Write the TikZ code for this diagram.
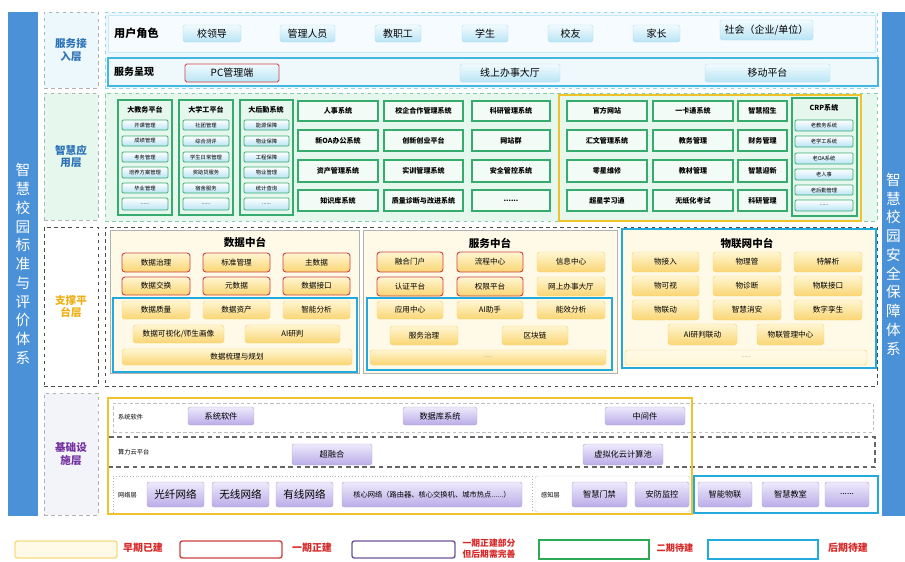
\documentclass[tikz,border=0pt]{standalone}
\usepackage{fontspec}
\setmainfont{Noto Sans CJK SC}

\definecolor{barblue}{RGB}{75,145,215}
\definecolor{frameblue}{RGB}{35,170,220}
\definecolor{frameyellow}{RGB}{240,195,45}
\definecolor{framered}{RGB}{205,65,65}
\definecolor{framepurple}{RGB}{110,85,150}
\definecolor{framegreen}{RGB}{45,170,85}
\definecolor{labelblue}{RGB}{45,115,185}
\definecolor{labelorange}{RGB}{240,175,20}
\definecolor{labelpurple}{RGB}{115,50,160}
\definecolor{accessfill}{RGB}{236,248,252}
\definecolor{appfill}{RGB}{230,248,238}
\definecolor{appline}{RGB}{55,170,110}
\definecolor{creamfill}{RGB}{255,250,232}
\definecolor{itemtop}{RGB}{255,246,210}
\definecolor{itembot}{RGB}{250,213,115}
\definecolor{btntop}{RGB}{242,251,254}
\definecolor{btnbot}{RGB}{185,228,245}
\definecolor{purtop}{RGB}{238,234,252}
\definecolor{purbot}{RGB}{186,172,232}
\definecolor{infrafill}{RGB}{243,243,250}
\definecolor{legendred}{RGB}{215,40,40}

\tikzset{
  boxat/.style args={#1,#2,#3,#4}{at={({(#1+#3)/2},{(#2+#4)/2})}, minimum width={(#3-#1)*0.03cm}, minimum height={(#4-#2)*0.03cm}},
  sidebar/.style={fill=barblue, text=white, font=\fontsize{12.5}{16}\selectfont, align=center, inner sep=0pt},
  layerbox/.style={draw=gray!60, dashed, fill=#1, inner sep=0pt, align=center, font=\fontsize{9}{11}\selectfont\bfseries},
  btn/.style={draw=frameblue!35, top color=btntop, bottom color=btnbot, rounded corners=1.5pt, inner sep=0pt, font=\fontsize{8.5}{9}\selectfont},
  appbox/.style={draw=appline, line width=1.1pt, fill=appfill!50!white, inner sep=0pt, font=\fontsize{6}{7}\selectfont\bfseries},
  colbox/.style={draw=appline, line width=1pt, fill=appfill, inner sep=0pt},
  coltitle/.style={font=\fontsize{6}{7}\selectfont\bfseries, inner sep=0pt},
  subbtn/.style={draw=appline, line width=0.7pt, top color=white, bottom color=btnbot, rounded corners=1pt, inner sep=0pt, font=\fontsize{4.5}{5}\selectfont},
  midpanel/.style={draw=gray!60, line width=0.8pt, fill=creamfill, inner sep=0pt},
  midtitle/.style={font=\fontsize{9}{10}\selectfont\bfseries, inner sep=0pt},
  ybox/.style={draw=itembot, top color=itemtop, bottom color=itembot, rounded corners=2.5pt, inner sep=0pt, font=\fontsize{6.5}{7}\selectfont},
  redbox/.style={ybox, draw=framered, line width=0.8pt},
  purbtn/.style={draw=framepurple!50, top color=purtop, bottom color=purbot, rounded corners=2pt, inner sep=0pt, font=\fontsize{7}{8}\selectfont},
  bluefr/.style={draw=frameblue, line width=2pt, inner sep=0pt},
  yellowfr/.style={draw=frameyellow, line width=2pt, inner sep=0pt},
  rowlabel/.style={font=\fontsize{5.3}{6}\selectfont, anchor=west, inner sep=0pt},
  legendbox/.style={line width=1.2pt, rounded corners=2pt, inner sep=0pt},
  legendtxt/.style={text=legendred, font=\fontsize{8.5}{11}\selectfont\bfseries, align=center, inner sep=0pt},
}

\begin{document}
\begin{tikzpicture}[x=0.03cm, y=-0.03cm]
\useasboundingbox (0,0) rectangle (905,561);

\node[sidebar, boxat={8,12,38,516}] (bzbar) {智\\慧\\校\\园\\标\\准\\与\\评\\价\\体\\系};
\node[sidebar, boxat={882,12,905,516}] (aqbar) {智\\慧\\校\\园\\安\\全\\保\\障\\体\\系};

\node[layerbox=accessfill, text=labelblue, boxat={44,12,98,88}] (jrlayer) {服务接\\入层};
\node[layerbox=appfill, text=labelblue, boxat={44,93,98,220}] (yylayer) {智慧应\\用层};
\node[layerbox=white, draw=black!70, text=labelorange, boxat={44,227,98,386}] (ptlayer) {支撑平\\台层};
\node[layerbox=infrafill, text=labelpurple, boxat={44,393,98,515}] (jclayer) {基础设\\施层};

% service access
\node[draw=frameblue!50, dashed, fill=accessfill, inner sep=0pt, boxat={105,12,877,88}] (jrpanel) {};
\node[draw=frameblue!25, fill=white!50!accessfill, inner sep=0pt, boxat={108,15,875,52}] (jsrow) {};
\node[font=\fontsize{9.5}{10}\selectfont\bfseries, anchor=west, inner sep=0pt] (yhjs) at (114,33) {用户角色};
\node[btn, boxat={183,25,241,42}] (xld) {校领导};
\node[btn, boxat={280,25,335,42}] (glry) {管理人员};
\node[btn, boxat={375,25,421,42}] (jzg) {教职工};
\node[btn, boxat={462,25,508,42}] (xs) {学生};
\node[btn, boxat={548,25,593,42}] (xy) {校友};
\node[btn, boxat={633,25,680,42}] (jz) {家长};
\node[btn, boxat={720,20,813,40}] (sh) {社会（企业/单位）};
\node[bluefr, draw=frameblue!85, fill=accessfill!70!frameblue!20, boxat={108,58,878,86}] (cxrow) {};
\node[font=\fontsize{8.5}{9}\selectfont\bfseries, anchor=west, inner sep=0pt] (fwcx) at (114,72) {服务呈现};
\node[btn, draw=framered, line width=0.8pt, boxat={185,64,279,82}] (pcd) {PC管理端};
\node[btn, boxat={460,64,560,82}] (xsdt) {线上办事大厅};
\node[btn, boxat={705,64,830,82}] (ydpt) {移动平台};

% smart applications
\node[draw=appline!60, dashed, fill=appfill, inner sep=0pt, boxat={105,93,877,221}] (yypanel) {};
\node[colbox, boxat={118,100,172,215}] (djw) {};
\node[coltitle] (djwt) at (145,110) {大教务平台};
\node[subbtn, boxat={122,120,168,130}] (jw1) {开课管理};
\node[subbtn, boxat={122,136,168,146}] (jw2) {成绩管理};
\node[subbtn, boxat={122,152,168,162}] (jw3) {考务管理};
\node[subbtn, boxat={122,167,168,178}] (jw4) {培养方案管理};
\node[subbtn, boxat={122,183,168,193}] (jw5) {毕业管理};
\node[subbtn, boxat={122,198,168,210}] (jw6) {......};
\node[colbox, boxat={179,100,233,215}] (dxg) {};
\node[coltitle] (dxgt) at (206,110) {大学工平台};
\node[subbtn, boxat={183,120,229,130}] (xg1) {社团管理};
\node[subbtn, boxat={183,136,229,146}] (xg2) {综合测评};
\node[subbtn, boxat={183,152,229,162}] (xg3) {学生日常管理};
\node[subbtn, boxat={183,167,229,178}] (xg4) {奖助贷服务};
\node[subbtn, boxat={183,183,229,193}] (xg5) {宿舍服务};
\node[subbtn, boxat={183,198,229,210}] (xg6) {......};
\node[colbox, boxat={240,100,293,215}] (dhq) {};
\node[coltitle] (dhqt) at (266,110) {大后勤系统};
\node[subbtn, boxat={244,120,289,130}] (hq1) {能源保障};
\node[subbtn, boxat={244,136,289,146}] (hq2) {物业保障};
\node[subbtn, boxat={244,152,289,162}] (hq3) {工程保障};
\node[subbtn, boxat={244,167,289,178}] (hq4) {物业管理};
\node[subbtn, boxat={244,183,289,193}] (hq5) {统计查询};
\node[subbtn, boxat={244,198,289,210}] (hq6) {......};
\node[appbox, boxat={298,101,378,121}] (rsxt) {人事系统};
\node[appbox, boxat={298,130,378,151}] (oaxt) {新OA办公系统};
\node[appbox, boxat={298,160,378,182}] (zcxt) {资产管理系统};
\node[appbox, boxat={298,190,378,211}] (zskxt) {知识库系统};
\node[appbox, boxat={384,101,463,121}] (xqhz) {校企合作管理系统};
\node[appbox, boxat={384,130,463,151}] (cxcy) {创新创业平台};
\node[appbox, boxat={384,160,463,182}] (sxgl) {实训管理系统};
\node[appbox, boxat={384,190,463,211}] (zlzd) {质量诊断与改进系统};
\node[appbox, boxat={472,101,550,121}] (kygl) {科研管理系统};
\node[appbox, boxat={472,130,550,151}] (wzq) {网站群};
\node[appbox, boxat={472,160,550,182}] (aqgk) {安全管控系统};
\node[appbox, boxat={472,190,550,211}] (yymore) {......};
\node[yellowfr, boxat={559,95,861,221}] (yyold) {};
\node[appbox, boxat={567,101,647,121}] (gfwz) {官方网站};
\node[appbox, boxat={567,130,647,151}] (hwgl) {汇文管理系统};
\node[appbox, boxat={567,160,647,182}] (lxwx) {零星维修};
\node[appbox, boxat={567,190,647,211}] (cxxxt) {超星学习通};
\node[appbox, boxat={653,101,733,121}] (ykt) {一卡通系统};
\node[appbox, boxat={653,130,733,151}] (jwgl) {教务管理};
\node[appbox, boxat={653,160,733,182}] (jcgl) {教材管理};
\node[appbox, boxat={653,190,733,211}] (wzhks) {无纸化考试};
\node[appbox, boxat={738,101,787,121}] (zhzs) {智慧招生};
\node[appbox, boxat={738,130,787,151}] (cwgl) {财务管理};
\node[appbox, boxat={738,160,787,182}] (zhyx) {智慧迎新};
\node[appbox, boxat={738,190,787,211}] (kygl2) {科研管理};
\node[colbox, boxat={792,98,857,216}] (crp) {};
\node[coltitle] (crpt) at (824,108) {CRP系统};
\node[subbtn, boxat={795,120,853,131}] (crp1) {老教务系统};
\node[subbtn, boxat={795,136,853,147}] (crp2) {老学工系统};
\node[subbtn, boxat={795,153,853,164}] (crp3) {老OA系统};
\node[subbtn, boxat={795,169,853,180}] (crp4) {老人事};
\node[subbtn, boxat={795,185,853,195}] (crp5) {老后勤管理};
\node[subbtn, boxat={795,200,853,211}] (crp6) {......};

% support platforms
\node[draw=black!70, dashed, inner sep=0pt, boxat={105,227,877,386}] (ptpanel) {};
\node[midpanel, boxat={110,230,359,373}] (sjzt) {};
\node[midtitle] (sjztt) at (245,242) {数据中台};
\node[redbox, boxat={122,253,190,272}] (sjzl) {数据治理};
\node[redbox, boxat={203,253,270,272}] (bzgl) {标准管理};
\node[redbox, boxat={283,253,350,272}] (zsj) {主数据};
\node[redbox, boxat={122,277,190,295}] (sjjh) {数据交换};
\node[redbox, boxat={203,277,270,295}] (ysj) {元数据};
\node[redbox, boxat={283,277,350,295}] (sjjk) {数据接口};
\node[bluefr, boxat={113,298,357,372}] (sjnew) {};
\node[ybox, boxat={122,301,190,319}] (sjzliang) {数据质量};
\node[ybox, boxat={203,301,270,319}] (sjzc) {数据资产};
\node[ybox, boxat={283,301,350,319}] (znfx) {智能分析};
\node[ybox, boxat={133,325,224,343}] (sjksh) {数据可视化/师生画像};
\node[ybox, boxat={245,325,340,343}] (aiyp) {AI研判};
\node[ybox, boxat={122,349,352,365}] (sjsl) {数据梳理与规划};

\node[midpanel, boxat={363,230,617,373}] (fwzt) {};
\node[midtitle] (fwztt) at (490,243) {服务中台};
\node[redbox, boxat={377,252,443,272}] (rhmh) {融合门户};
\node[redbox, boxat={457,252,523,272}] (lczx) {流程中心};
\node[ybox, boxat={537,252,605,272}] (xxzx) {信息中心};
\node[redbox, boxat={377,277,443,296}] (rzpt) {认证平台};
\node[redbox, boxat={457,277,523,296}] (qxpt) {权限平台};
\node[ybox, boxat={537,277,605,296}] (wsbs) {网上办事大厅};
\node[bluefr, boxat={367,298,612,370}] (fwnew) {};
\node[ybox, boxat={377,301,443,319}] (yyzx) {应用中心};
\node[ybox, boxat={457,301,523,319}] (aizs) {AI助手};
\node[ybox, boxat={537,301,605,319}] (nxfx) {能效分析};
\node[ybox, boxat={390,326,458,345}] (fwzl) {服务治理};
\node[ybox, boxat={502,326,568,345}] (qkl) {区块链};
\node[ybox, font=\fontsize{4.5}{5}\selectfont, text=gray, boxat={370,350,606,365}] (fwmore) {......};

\node[bluefr, fill=creamfill, boxat={622,229,876,368}] (wlzt) {};
\node[midtitle] (wlztt) at (747,243) {物联网中台};
\node[ybox, boxat={632,252,699,272}] (wjr) {物接入};
\node[ybox, boxat={713,252,781,272}] (wlg) {物理管};
\node[ybox, boxat={794,252,862,272}] (tjx) {特解析};
\node[ybox, boxat={632,276,699,296}] (wks) {物可视};
\node[ybox, boxat={713,276,781,296}] (wzd) {物诊断};
\node[ybox, boxat={794,276,862,296}] (wljk) {物联接口};
\node[ybox, boxat={632,300,699,320}] (wld) {物联动};
\node[ybox, boxat={713,300,781,320}] (zhxa) {智慧消安};
\node[ybox, boxat={794,300,862,320}] (szls) {数字孪生};
\node[ybox, boxat={668,324,737,345}] (aild) {AI研判联动};
\node[ybox, boxat={757,324,824,345}] (wlglzx) {物联管理中心};
\node[ybox, top color=creamfill, bottom color=itemtop, font=\fontsize{4.5}{5}\selectfont, text=gray, boxat={625,350,867,365}] (wlmore) {......};

% infrastructure
\node[draw=gray!50, densely dashed, inner sep=0pt, boxat={113,403,873,432}] (rjrow) {};
\node[rowlabel] (rjlbl) at (118,417) {系统软件};
\node[purbtn, boxat={188,407,254,425}] (xtrj) {系统软件};
\node[purbtn, boxat={403,407,477,425}] (sjkxt) {数据库系统};
\node[purbtn, boxat={605,407,685,425}] (zjj) {中间件};
\node[draw=black!60, dash pattern=on 4pt off 3pt, line width=1pt, inner sep=0pt, boxat={108,437,875,467}] (slrow) {};
\node[rowlabel] (sllbl) at (118,452) {算力云平台};
\node[purbtn, boxat={292,444,372,465}] (crh) {超融合};
\node[purbtn, boxat={583,444,663,465}] (xnh) {虚拟化云计算池};
\node[draw=gray!60, dotted, inner sep=0pt, boxat={113,476,532,513}] (wlrow) {};
\node[rowlabel] (wllbl) at (118,495) {网络层};
\node[purbtn, font=\fontsize{9}{10}\selectfont, boxat={147,482,204,507}] (gxwl) {光纤网络};
\node[purbtn, font=\fontsize{9}{10}\selectfont, boxat={212,482,269,507}] (wxwl) {无线网络};
\node[purbtn, font=\fontsize{9}{10}\selectfont, boxat={276,482,333,507}] (yxwl) {有线网络};
\node[purbtn, font=\fontsize{6.2}{7}\selectfont, boxat={342,482,522,507}] (hxwl) {核心网络（路由器、核心交换机、城市热点......）};
\node[draw=gray!35, rounded corners=2pt, fill=white, inner sep=0pt, boxat={535,476,690,512}] (gzrow) {};
\node[rowlabel] (gzlbl) at (541,495) {感知层};
\node[purbtn, boxat={572,482,627,507}] (zhmj) {智慧门禁};
\node[purbtn, boxat={635,482,689,507}] (afjk) {安防监控};
\node[yellowfr, boxat={108,398,692,514}] (jcold) {};
\node[bluefr, boxat={694,476,878,513}] (jcnew) {};
\node[purbtn, boxat={698,482,752,507}] (znwl) {智能物联};
\node[purbtn, boxat={762,482,819,507}] (zhjs) {智慧教室};
\node[purbtn, boxat={825,482,869,507}] (jcmore) {......};

% legend
\node[legendbox, draw=frameyellow!60, fill=itemtop!50, boxat={15,541,117,558}] (lgyellow) {};
\node[legendtxt] (lgyellowt) at (143,548) {早期已建};
\node[legendbox, draw=framered, boxat={180,541,282,558}] (lgred) {};
\node[legendtxt] (lgredt) at (312,548) {一期正建};
\node[legendbox, draw=framepurple, boxat={352,541,455,558}] (lgpurple) {};
\node[legendtxt, font=\fontsize{7.5}{9.5}\selectfont\bfseries] (lgpurplet) at (489,549) {一期正建部分\\但后期需完善};
\node[legendbox, draw=framegreen, rounded corners=0pt, line width=1.5pt, boxat={539,540,649,559}] (lggreen) {};
\node[legendtxt, font=\fontsize{7.8}{9}\selectfont\bfseries] (lggreent) at (675,548) {二期待建};
\node[legendbox, draw=frameblue, rounded corners=0pt, line width=1.5pt, boxat={708,540,818,559}] (lgblue) {};
\node[legendtxt] (lgbluet) at (848,548) {后期待建};
\end{tikzpicture}
\end{document}
